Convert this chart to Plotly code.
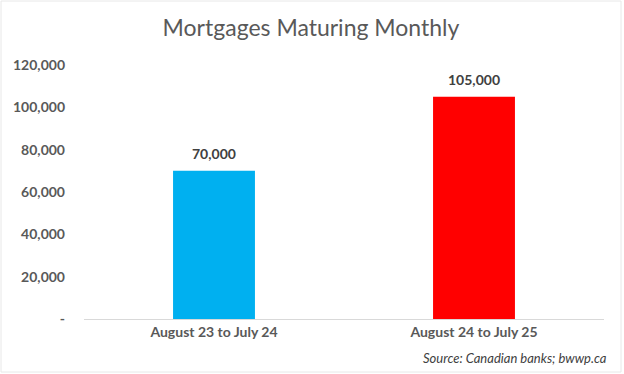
import plotly.graph_objects as go

categories = ["August 23 to July 24", "August 24 to July 25"]
values = [70000, 105000]
bar_colors = ["#00B0F0", "#FF0000"]
value_labels = ["70,000", "105,000"]
tick_vals = [0, 20000, 40000, 60000, 80000, 100000, 120000]
tick_text = ["-", "20,000", "40,000", "60,000", "80,000", "100,000", "120,000"]
title_text = "Mortgages Maturing Monthly"
source_text = "Source: Canadian banks; bwwp.ca"

W, H = 624, 374
ml, mr, mt, mb = 84, 20, 65, 55
FONT = "Lato, 'Open Sans', sans-serif"

fig = go.Figure()
fig.add_trace(go.Bar(
    x=categories, y=values,
    marker=dict(color=bar_colors, line=dict(width=0)),
    width=0.315,
))

pw = W - ml - mr
ph = H - mt - mb

annotations = [dict(x=c, y=v, text=t, xref="x", yref="y", showarrow=False,
                    yanchor="middle", yshift=17,
                    font=dict(family=FONT, size=14, color="#404040", weight="bold"))
               for c, v, t in zip(categories, values, value_labels)]
annotations.append(dict(text=source_text, xref="paper", yref="paper",
                        x=(W - 15 - ml) / pw, y=-(358 - (H - mb)) / ph,
                        xanchor="right", yanchor="middle", showarrow=False,
                        font=dict(family=FONT, size=13, color="#404040", style="italic")))

fig.update_layout(
    width=W, height=H,
    margin=dict(l=ml, r=mr, t=mt, b=mb, autoexpand=False),
    paper_bgcolor="white", plot_bgcolor="white",
    showlegend=False,
    title=dict(text=title_text, x=(311 - ml) / pw, xref="paper", xanchor="center",
               y=1 - 28 / H, yanchor="middle",
               font=dict(family=FONT, size=23, color="#595959")),
    xaxis=dict(showgrid=False, showline=True, linecolor="#D9D9D9", linewidth=1,
               ticks="", automargin=False,
               tickfont=dict(family=FONT, size=14, color="#595959", weight="bold"),
               fixedrange=True),
    yaxis=dict(range=[0, 120000], tickvals=tick_vals, ticktext=tick_text,
               showgrid=False, zeroline=False, showline=False, ticks="",
               ticklabelstandoff=18, automargin=False,
               tickfont=dict(family=FONT, size=14, color="#595959", weight="bold"),
               fixedrange=True),
    annotations=annotations,
    shapes=[dict(type="rect", xref="paper", yref="paper",
                 x0=-(ml - 1) / pw, x1=1 + (mr - 3) / pw,
                 y0=-(mb - 2) / ph, y1=1 + (mt - 1) / ph,
                 line=dict(color="#E8E8E8", width=1), fillcolor="rgba(0,0,0,0)", layer="below")],
)

fig.write_html("out.html", config={"displayModeBar": False},
               post_script="document.body.style.margin='0';document.body.style.overflow='hidden';")
